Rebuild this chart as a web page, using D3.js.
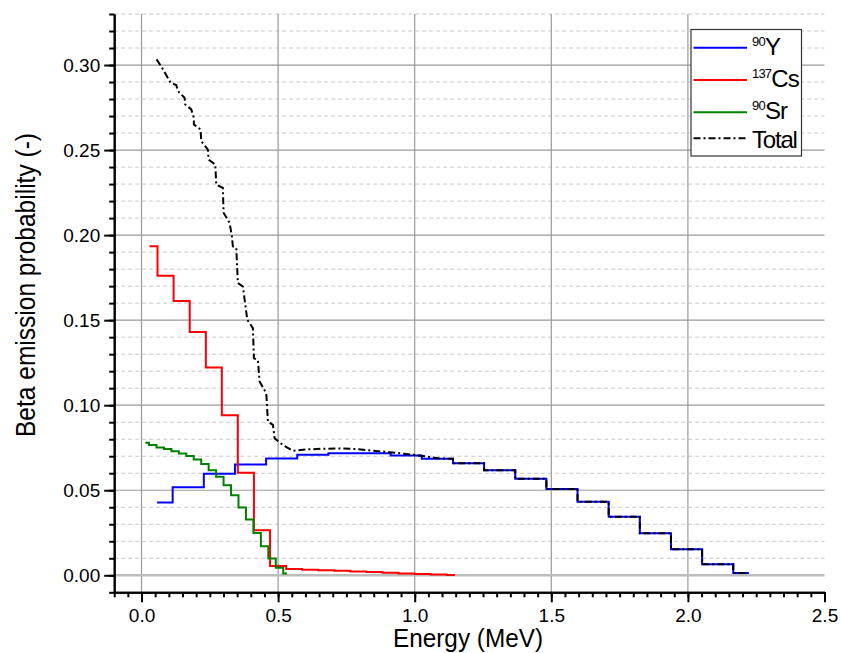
<!DOCTYPE html>
<html>
<head>
<meta charset="utf-8">
<script src="https://cdn.jsdelivr.net/npm/d3@7"></script>
<style>
  html, body { margin: 0; padding: 0; background: #fff; }
  svg { display: block; }
  text { font-family: "Liberation Sans", Arial, sans-serif; fill: #000; }
</style>
</head>
<body>
<div id="chart"></div>
<script>
// ---------- data ----------
const yEnergy = [0.057,0.171,0.285,0.399,0.513,0.627,0.741,0.855,0.969,1.083,1.197,1.311,1.425,1.539,1.653,1.767,1.881,1.995,2.109,2.223];
const yProb   = [0.0428,0.0517,0.0597,0.0652,0.0687,0.0709,0.0717,0.0717,0.0705,0.0685,0.0658,0.0618,0.0567,0.0507,0.0432,0.0344,0.0247,0.0153,0.0065,0.0014];

const csEnergy = [0.029,0.088,0.147,0.206,0.265,0.323,0.382,0.441,0.500,0.559,0.617,0.676,0.735,0.794,0.853,0.911,0.970,1.029,1.088,1.147];
const csProb   = [0.1934,0.1761,0.1612,0.1430,0.1221,0.0941,0.0603,0.0265,0.0055,0.0037,0.0033,0.0030,0.0026,0.0022,0.0019,0.0015,0.0011,0.0008,0.0004,0.0001];

const srEnergy = [0.0137,0.0410,0.0683,0.0956,0.1229,0.1502,0.1775,0.2048,0.2321,0.2594,0.2867,0.3140,0.3413,0.3686,0.3959,0.4232,0.4505,0.4778,0.5051,0.5324];
const srProb   = [0.0779,0.0766,0.0752,0.0742,0.0730,0.0716,0.0701,0.0681,0.0654,0.0618,0.0579,0.0530,0.0471,0.0399,0.0328,0.0249,0.0171,0.0098,0.0045,0.0010];

// Total (sum) — low-energy part read as a polyline; above ~1.1 MeV it coincides with 90Y
const totalEnergy = [0.0549,0.0722,0.0868,0.1062,0.1271,0.1330,0.1575,0.1601,0.1821,0.1916,0.1916,0.2161,0.2187,0.2429,0.2454,0.2700,0.2736,0.2978,0.3004,0.3223,0.3308,0.3344,0.3469,0.3527,0.3711,0.3872,0.4077,0.4114,0.4260,0.4322,0.4568,0.4626,0.4810,0.4872,0.5176,0.5542,0.6033,0.6641,0.7253,0.7864,0.8473,0.9084,0.9696,1.0304,1.0916];
const totalProb   = [0.3033,0.2991,0.2951,0.2896,0.2882,0.2847,0.2808,0.2768,0.2739,0.2690,0.2651,0.2621,0.2552,0.2503,0.2444,0.2415,0.2297,0.2278,0.2131,0.2072,0.1993,0.1934,0.1924,0.1718,0.1698,0.1502,0.1453,0.1276,0.1266,0.1139,0.1070,0.0903,0.0884,0.0805,0.0766,0.0732,0.0740,0.0744,0.0746,0.0742,0.0732,0.0724,0.0713,0.0701,0.0687];

const xMajorTicks = [0.0, 0.5, 1.0, 1.5, 2.0, 2.5];
const xTickLabels = ["0.0", "0.5", "1.0", "1.5", "2.0", "2.5"];
const yMajorTicks = [0.00, 0.05, 0.10, 0.15, 0.20, 0.25, 0.30];
const yTickLabels = ["0.00", "0.05", "0.10", "0.15", "0.20", "0.25", "0.30"];

const legendSup = ["90", "137", "90", ""];
const legendMain = ["Y", "Cs", "Sr", "Total"];

const xTitle = "Energy (MeV)";
const yTitle = "Beta emission probability (-)";

// ---------- layout ----------
const W = 841, H = 653;
const L = 114.2, R = 824.5, T = 14, B = 592.3;

const svg = d3.select("#chart").append("svg").attr("width", W).attr("height", H);
svg.append("rect").attr("width", W).attr("height", H).attr("fill", "#fff");

const x = d3.scaleLinear().domain([-0.1, 2.5]).range([L, R]);
const y = d3.scaleLinear().domain([-0.01, 0.33]).range([B, T]);

const xMinor = d3.range(-0.1, 2.5001, 0.05).map(v => +v.toFixed(3));
const yMinor = d3.range(-0.01, 0.3301, 0.01).map(v => +v.toFixed(3));
const isMajorY = v => Math.abs(v / 0.05 - Math.round(v / 0.05)) < 1e-6;

// ---------- grid ----------
const grid = svg.append("g");
grid.selectAll(".ymin").data(yMinor.filter(v => !isMajorY(v) && v > -0.005))
  .enter().append("line")
  .attr("x1", L).attr("x2", R).attr("y1", d => y(d)).attr("y2", d => y(d))
  .attr("stroke", "#c8c8c8").attr("stroke-width", 1).attr("stroke-dasharray", "4,3");
grid.selectAll(".ymaj").data(yMajorTicks.filter(v => v > 0))
  .enter().append("line")
  .attr("x1", L).attr("x2", R).attr("y1", d => y(d)).attr("y2", d => y(d))
  .attr("stroke", "#9a9a9a").attr("stroke-width", 1.2);
grid.selectAll(".xmaj").data(xMajorTicks.filter(v => v < 2.4))
  .enter().append("line")
  .attr("y1", T).attr("y2", B).attr("x1", d => x(d)).attr("x2", d => x(d))
  .attr("stroke", "#9a9a9a").attr("stroke-width", 1.2);
grid.append("line").attr("x1", L).attr("x2", R).attr("y1", y(0)).attr("y2", y(0))
  .attr("stroke", "#bdbdbd").attr("stroke-width", 2.5);

// ---------- series ----------
const stepLine = d3.line().x(d => x(d[0])).y(d => y(d[1])).curve(d3.curveStep);
const polyLine = d3.line().x(d => x(d[0])).y(d => y(d[1]));

const yData = yEnergy.map((e, i) => [e, yProb[i]]);
const csData = csEnergy.map((e, i) => [e, csProb[i]]);
const srData = srEnergy.map((e, i) => [e, srProb[i]]);

const totalData = totalEnergy.map((e, i) => [e, totalProb[i]]);
for (let i = 10; i < yEnergy.length; i++) {
  const b = (yEnergy[i - 1] + yEnergy[i]) / 2;
  totalData.push([b, yProb[i - 1]]);
  totalData.push([b, yProb[i]]);
}
totalData.push([yEnergy[yEnergy.length - 1], yProb[yProb.length - 1]]);

const plot = svg.append("g");
plot.append("path").attr("d", stepLine(yData)).attr("fill", "none").attr("stroke", "#0000ff").attr("stroke-width", 2);
plot.append("path").attr("d", stepLine(csData)).attr("fill", "none").attr("stroke", "#ff0000").attr("stroke-width", 2);
plot.append("path").attr("d", stepLine(srData)).attr("fill", "none").attr("stroke", "#008000").attr("stroke-width", 2);
plot.append("path").attr("d", polyLine(totalData)).attr("fill", "none").attr("stroke", "#000").attr("stroke-width", 2)
  .attr("stroke-dasharray", "7,3,2,3");

// ---------- axes ----------
const font = "\"Liberation Sans\", Arial, sans-serif";
const yAxisMinor = d3.axisLeft(y).tickValues(yMinor).tickSize(5).tickSizeOuter(0).tickFormat("");
const yAxisMajor = d3.axisLeft(y).tickValues(yMajorTicks).tickSize(10).tickSizeOuter(0).tickPadding(4)
  .tickFormat((d, i) => yTickLabels[i]);
const xAxisMinor = d3.axisBottom(x).tickValues(xMinor).tickSize(5).tickSizeOuter(0).tickFormat("");
const xAxisMajor = d3.axisBottom(x).tickValues(xMajorTicks).tickSize(10).tickSizeOuter(0).tickPadding(6)
  .tickFormat((d, i) => xTickLabels[i]);

function style(g) {
  g.select(".domain").attr("stroke", "#000").attr("stroke-width", 2);
  g.selectAll(".tick line").attr("stroke", "#000").attr("stroke-width", 2);
  g.selectAll(".tick text").attr("font-family", font).attr("font-size", 19).attr("fill", "#000");
}
svg.append("g").attr("transform", `translate(${L},0)`).call(yAxisMinor).call(style);
svg.append("g").attr("transform", `translate(${L},0)`).call(yAxisMajor).call(style);
svg.append("g").attr("transform", `translate(0,${B})`).call(xAxisMinor).call(style);
svg.append("g").attr("transform", `translate(0,${B})`).call(xAxisMajor).call(style);

// titles
svg.append("text").attr("transform", "translate(35,285) rotate(-90)")
  .attr("text-anchor", "middle").attr("font-size", 27)
  .attr("textLength", 304).attr("lengthAdjust", "spacingAndGlyphs")
  .text(yTitle);
svg.append("text").attr("x", 468).attr("y", 647)
  .attr("text-anchor", "middle").attr("font-size", 25)
  .attr("textLength", 150).attr("lengthAdjust", "spacingAndGlyphs")
  .text(xTitle);

// ---------- legend ----------
const lg = svg.append("g");
lg.append("rect").attr("x", 691).attr("y", 29.5).attr("width", 110.5).attr("height", 126.5)
  .attr("fill", "#fff").attr("stroke", "#333").attr("stroke-width", 1.2);
const legendColors = ["#0000ff", "#ff0000", "#008000", "#000"];
const legendLineY = [47.7, 80, 112.3, 138.3];
const legendBase = [55, 87, 118.5, 148.3];
legendMain.forEach((m, i) => {
  const l = lg.append("line").attr("x1", 693.5).attr("x2", 747)
    .attr("y1", legendLineY[i]).attr("y2", legendLineY[i])
    .attr("stroke", legendColors[i]).attr("stroke-width", 2);
  if (i === 3) l.attr("stroke-dasharray", "7,3,2,3");
  const t = lg.append("text").attr("x", 752).attr("y", legendBase[i]);
  if (legendSup[i]) {
    t.append("tspan").attr("font-size", 13).attr("letter-spacing", -0.8)
      .attr("dy", -9).text(legendSup[i]);
    t.append("tspan").attr("font-size", 24).attr("letter-spacing", -1)
      .attr("dy", 9).text(m);
  } else {
    t.append("tspan").attr("font-size", 24).attr("letter-spacing", -1.2).text(m);
  }
});
</script>
</body>
</html>
